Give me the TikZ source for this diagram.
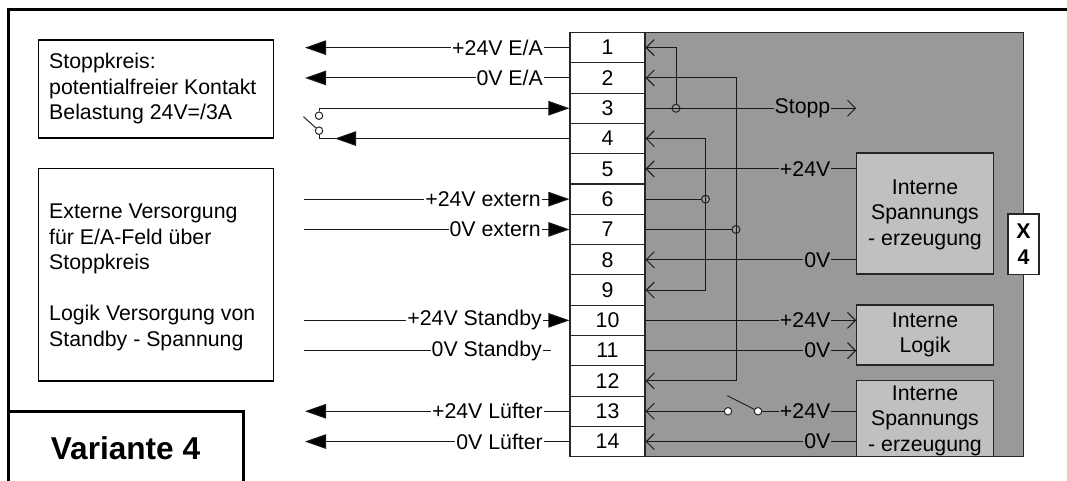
\documentclass[tikz,border=0pt]{standalone}
\usepackage{fontspec}
\setmainfont{Liberation Sans}
\usetikzlibrary{arrows.meta,calc}
\definecolor{blockgrey}{HTML}{999999}
\definecolor{innergrey}{HTML}{C0C0C0}
\tikzset{
  txt/.style={font=\fontsize{21.3}{25.5}\selectfont},
  wire/.style={line width=1pt,draw=black!90},
  solidhead/.style={-{Triangle[length=21pt,width=14.5pt,fill=black]}},
  openhead/.style={-{Straight Barb[length=8pt,width=16pt,line width=1pt]}},
  term/.style={draw=black!85,line width=1.1pt,fill=white,minimum width=75pt,minimum height=30.3pt,inner sep=0pt,txt},
  infobox/.style={draw=black,line width=1.1pt,fill=white,inner sep=0pt},
  inner/.style={draw=black!85,line width=1.1pt,fill=innergrey,inner sep=0pt,txt,align=center},
  whitelabel/.style={fill=white,inner xsep=1pt,inner ysep=0pt,anchor=east,txt},
  greylabel/.style={fill=blockgrey,inner xsep=1pt,inner ysep=0pt,anchor=east,txt},
  junct/.style={circle,draw=black!85,line width=1pt,minimum size=8pt,inner sep=0pt},
  contact/.style={circle,draw=black!85,line width=1pt,fill=white,minimum size=7.5pt,inner sep=0pt},
}
\begin{document}
\begin{tikzpicture}[x=1pt,y=-1pt]
\useasboundingbox (0,0) rectangle (1067,481);
% outer frame
\draw[line width=3pt,line join=miter] (8,481) -- (8,10) -- (1067,10);
% info boxes
\node[infobox,minimum width=235pt,minimum height=98pt] (info1) at (156,89) {};
\node[infobox,minimum width=235pt,minimum height=212.5pt] (info2) at (156,274.75) {};
\node[txt,anchor=west,align=left,inner sep=0pt] (info1t) at (49,88.5) {Stoppkreis:\\potentialfreier Kontakt\\Belastung 24V=/3A};
\node[txt,anchor=west,align=left,inner sep=0pt] (info2t) at (49,277.5) {Externe Versorgung\\für E/A-Feld über\\Stoppkreis\\[25.5pt]Logik Versorgung von\\Standby - Spannung};
% Variante
\draw[line width=3pt,fill=white] (8,481) -- (8,411) -- (243,411) -- (243,481);
\node[font=\fontsize{31.6}{36}\selectfont\bfseries,inner sep=0pt] (var) at (125.5,448) {Variante 4};
% grey block
\node[draw=black!85,line width=1.1pt,fill=blockgrey,minimum width=378.5pt,minimum height=424.2pt,inner sep=0pt] (block) at (834.25,244.6) {};
% terminals
\foreach \n in {1,...,14}{
  \node[term] (t\n) at (607.5,{32.5+30.3*(\n-0.5)}) {\n};
  \coordinate (H\n) at (305,{32.5+30.3*(\n-0.5)});
  \coordinate (L\n) at (303.5,{32.5+30.3*(\n-0.5)});
  \coordinate (La\n) at (544,{32.5+30.3*(\n-0.5)});
  \coordinate (Lb\n) at (831.5,{32.5+30.3*(\n-0.5)});
}
% inner boxes
\node[inner,minimum width=136.5pt,minimum height=121pt,text depth=0pt] (gen1) at (925,213.5) {};
\node[txt,align=center,inner sep=0pt] (gen1t) at (925,214.5) {Interne\\Spannungs\\- erzeugung};
\node[inner,minimum width=136.5pt,minimum height=60pt] (logik) at (925,335) {Interne\\Logik};
\node[inner,minimum width=136.5pt,minimum height=76pt] (gen2) at (925,418.7) {};
\node[txt,align=center,inner sep=0pt] (gen2t) at (925,420.5) {Interne\\Spannungs\\- erzeugung};
\node[draw=black!85,line width=1.1pt,fill=white,minimum width=31pt,minimum height=60.5pt,inner sep=0pt,align=center,font=\fontsize{21.3}{26}\selectfont\bfseries] (x4) at (1023.5,244.2) {X\\4};
% outside wires, left
\draw[wire,solidhead] (t1.west) -- (H1);
\draw[wire,solidhead] (t2.west) -- (H2);
\draw[wire,solidhead] (t13.west) -- (H13);
\draw[wire,solidhead] (t14.west) -- (H14);
\draw[wire,solidhead] (L6) -- (t6.west);
\draw[wire,solidhead] (L7) -- (t7.west);
\draw[wire,solidhead] (L10) -- (t10.west);
\coordinate (end11) at ($(La11)+(6.5,0)$);
\draw[wire] (L11) -- (end11);
% switch left
\coordinate (bot4) at ($(L4)+(15.5,0)$);
\coordinate (tip4) at ($(L4)+(31.5,0)$);
\coordinate (armS) at (303.5,116.7);
\node[contact] (c1) at (319,115.7) {};
\node[contact] (c2) at (319,130.7) {};
\draw[wire,solidhead] (c1.north) |- (t3.west);
\draw[wire] (t4.west) -- (bot4) -- (c2.south);
\draw[wire,solidhead] (t4.west) -- (tip4);
\draw[line width=1pt,draw=black!85] (armS) -- (c2);
% left labels
\node[whitelabel] (lb1) at (La1) {+24V E/A};
\node[whitelabel] (lb2) at (La2) {0V E/A};
\node[whitelabel,xshift=-2pt] (lb6) at (La6) {+24V extern};
\node[whitelabel,xshift=-2pt] (lb7) at (La7) {0V extern};
\node[whitelabel,xshift=-1pt] (lb10) at (La10) {+24V Standby};
\node[whitelabel,xshift=-1pt] (lb11) at (La11) {0V Standby};
\node[whitelabel] (lb13) at (La13) {+24V Lüfter};
\node[whitelabel] (lb14) at (La14) {0V Lüfter};
% junctions
\node[junct] (j1) at (676,{32.5+30.3*2.5}) {};
\node[junct] (j2) at (705.5,{32.5+30.3*5.5}) {};
\node[junct] (j3) at (736,{32.5+30.3*6.5}) {};
% inner wires
\coordinate (v2) at (705.5,{32.5+30.3*3.5});
\coordinate (v3) at (736,{32.5+30.3*1.5});
\draw[wire,openhead] (j1.north) |- (t1.east);
\draw[wire,openhead] (j3.center) -- (j3 |- t12) -- (t12.east);
\draw[wire,openhead] (j3.center) -- (v3) -- (t2.east);
\draw[wire,openhead] (j2.center) -- (v2) -- (t4.east);
\draw[wire,openhead] (j2.center) -- (j2 |- t9) -- (t9.east);
\draw[wire] (t6.east) -- (j2.west);
\draw[wire] (t7.east) -- (j3.west);
\draw[wire,openhead] (t3.east) -- (gen1.west |- t3);
\draw[wire,openhead] (gen1.west |- t5) -- (t5.east);
\draw[wire,openhead] (gen1.west |- t8) -- (t8.east);
\draw[wire,openhead] (t10.east) -- (logik.west |- t10);
\draw[wire,openhead] (t11.east) -- (logik.west |- t11);
\draw[wire,openhead] (gen2.west |- t14) -- (t14.east);
% internal switch
\node[contact] (s1) at (728,{32.5+30.3*12.5}) {};
\node[contact] (s2) at (758,{32.5+30.3*12.5}) {};
\coordinate (armI) at (727.3,395.7);
\draw[wire,openhead] (s1.west) -- (t13.east);
\draw[wire] (gen2.west |- t13) -- (s2.east);
\draw[line width=1pt,draw=black!85] (armI) -- (s2);
% right labels
\node[greylabel] (r3) at (Lb3) {Stopp};
\node[greylabel] (r5) at (Lb5) {+24V};
\node[greylabel] (r8) at (Lb8) {0V};
\node[greylabel] (r10) at (Lb10) {+24V};
\node[greylabel] (r11) at (Lb11) {0V};
\node[greylabel] (r13) at (Lb13) {+24V};
\node[greylabel] (r14) at (Lb14) {0V};
\end{tikzpicture}
\end{document}
